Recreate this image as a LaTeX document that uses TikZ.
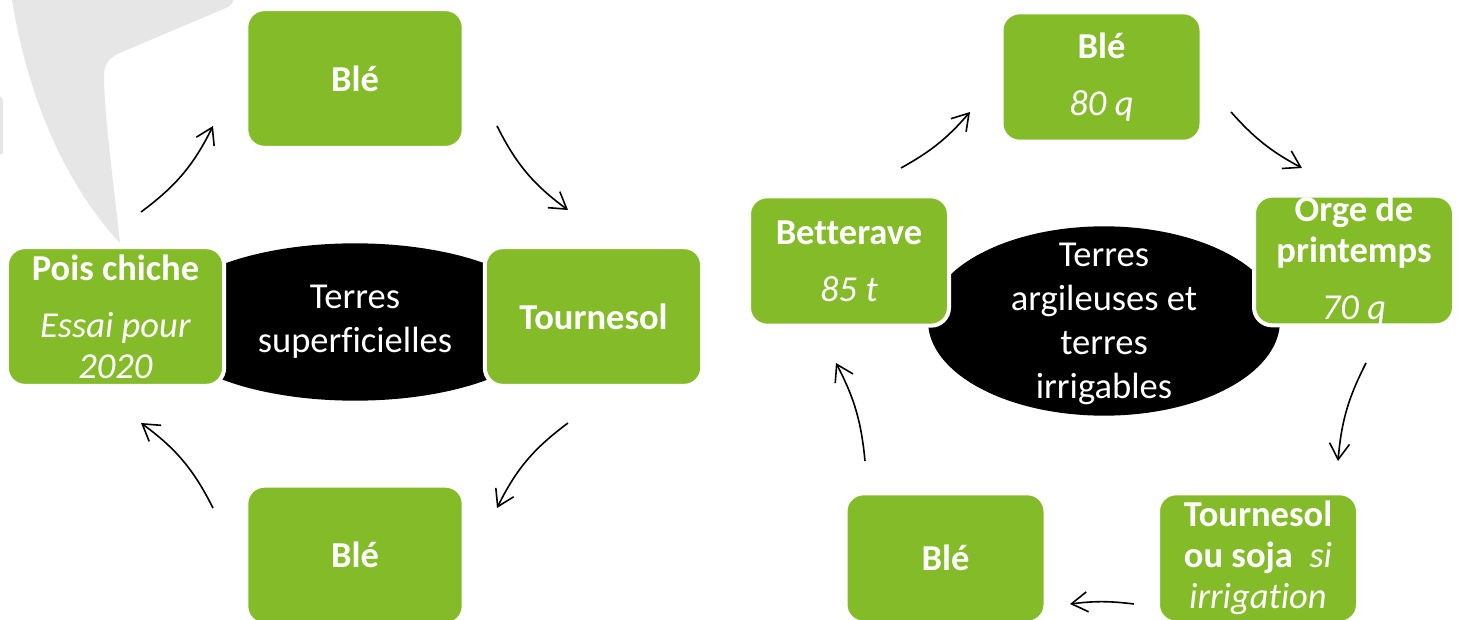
\documentclass[tikz,border=0pt]{standalone}
\usepackage{fontspec}
\setmainfont{Carlito}[Ligatures=NoCommon]
\usetikzlibrary{shapes.geometric,arrows.meta}
\definecolor{vert}{RGB}{132,187,41}
\definecolor{filigrane}{RGB}{230,230,230}
\tikzset{every picture/.style={line width=0.75pt}}
\tikzset{
  culture/.style={fill=vert, draw=white, line width=3pt, rounded corners=13.5pt, text=white,
    align=center, inner sep=0pt, font=\fontsize{27.4}{30.8}\selectfont},
  cultG/.style={culture, minimum width=163pt, minimum height=104pt},
  cultD/.style={culture, minimum width=150pt, minimum height=97pt},
  terre/.style={ellipse, fill=black, inner sep=0pt},
  terretexte/.style={text=white, align=center, inner sep=0pt,
    font=\fontsize{27.4}{33}\selectfont},
  fleche/.style={line width=1.2pt, -{Straight Barb[length=12pt,width=15pt]}},
}

\begin{document}
\begin{tikzpicture}[x=0.75pt,y=0.75pt,yscale=-1,xscale=1]
	\useasboundingbox (0,0) rectangle (1464,620);
	\clip (0,0) rectangle (1464,620);

	%Shape: watermark
	\fill [filigrane] (12,0) .. controls (30,110) and (72,192) .. (120,243) .. controls (112,170) and (104,110) .. (104,76) .. controls (104,63) and (110,57) .. (122,52) -- (226,8) .. controls (232,5) and (234,2) .. (233,0) -- cycle ;
	\fill [filigrane] (0,96) -- (3,100) -- (3,153) -- (0,155) -- cycle ;

	%Shape: Ellipse (left)
	\node [terre, minimum width=292pt, minimum height=118pt] (fondG) at (355,322) {};
	\node [terretexte] (txtG) at (fondG) {Terres\\superficielles};
	%Shape: Ellipse (right)
	\node [terre, minimum width=264pt, minimum height=142pt] (fondD) at (1104,321) {};
	\node [terretexte] (txtD) at (1104,324) {Terres\\argileuses et\\terres\\irrigables};

	% Text Node (left cycle)
	\node [cultG] (bleA) at (355,78.5) {\textbf{Blé}};
	\node [cultG] (tourn) at (593.5,316.5) {\textbf{Tournesol}};
	\node [cultG] (bleB) at (355,555) {\textbf{Blé}};
	\node [cultG] (pois) at (115.5,316.5) {\textbf{Pois chiche}\\[12pt]\textit{Essai pour}\\\textit{2020}};

	% Text Node (right cycle)
	\node [cultD] (bleC) at (1101.5,77) {\textbf{Blé}\\[12pt]\textit{80 q}};
	\node [cultD] (orge) at (1354,260.5) {\textbf{Orge de}\\\textbf{printemps}\\[12pt]\textit{70 q}};
	\node [cultD] (tsoja) at (1258,558) {\textbf{Tournesol}\\\textbf{ou soja}~~\textit{si}\\\textit{irrigation}};
	\node [cultD] (bleD) at (945.5,558) {\textbf{Blé}};
	\node [cultD] (better) at (849,261) {\textbf{Betterave}\\[12pt]\textit{85 t}};

	%Straight Lines (left cycle)
	\coordinate (g1a) at (141,212); \coordinate (g1b) at (213,126);
	\coordinate (g2a) at (497,126); \coordinate (g2b) at (568,210);
	\coordinate (g3a) at (568,423); \coordinate (g3b) at (497,508);
	\coordinate (g4a) at (213,508); \coordinate (g4b) at (141,423);
	\draw [fleche] (g1a) to[bend left=13.5] (g1b);
	\draw [fleche] (g2a) to[bend left=13.5] (g2b);
	\draw [fleche] (g3a) to[bend left=13.5] (g3b);
	\draw [fleche] (g4a) to[bend left=13.5] (g4b);

	%Straight Lines (right cycle)
	\coordinate (d1a) at (901,168); \coordinate (d1b) at (970,112);
	\coordinate (d2a) at (1231,112); \coordinate (d2b) at (1302,168);
	\coordinate (d3a) at (1366,363); \coordinate (d3b) at (1338,461);
	\coordinate (d4a) at (1134,604); \coordinate (d4b) at (1070,604);
	\coordinate (d5a) at (865,461); \coordinate (d5b) at (836,363);
	\draw [fleche] (d1a) to[bend left=10] (d1b);
	\draw [fleche] (d2a) to[bend left=10] (d2b);
	\draw [fleche] (d3a) to[bend left=11] (d3b);
	\draw [fleche] (d4a) to[bend left=7] (d4b);
	\draw [fleche] (d5a) to[bend left=11] (d5b);

\end{tikzpicture}
\end{document}
